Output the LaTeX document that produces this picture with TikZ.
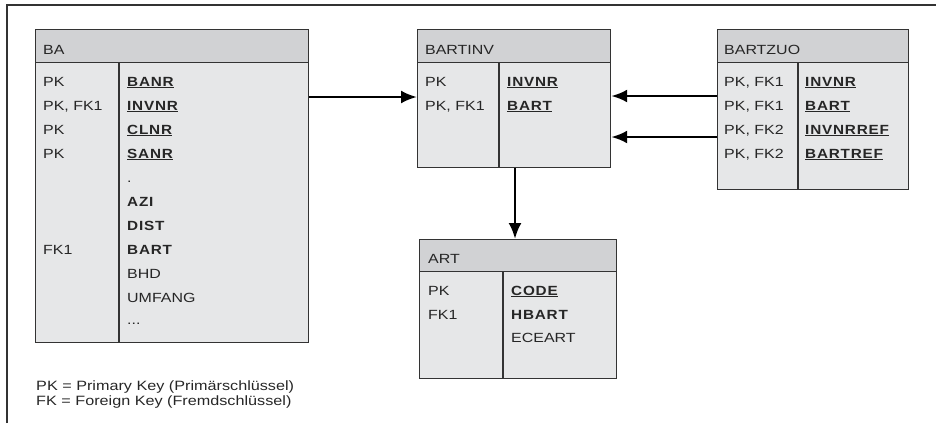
\documentclass[tikz,border=0pt]{standalone}
\usepackage{fontspec}
\setmainfont{Liberation Sans}[FakeStretch=1.2]
\newfontface\keyfont{Liberation Sans Bold}[FakeStretch=1.15,LetterSpace=6]
\usetikzlibrary{arrows.meta}
\definecolor{headgray}{HTML}{D1D2D4}
\definecolor{bodygray}{HTML}{E6E7E8}
\definecolor{ink}{HTML}{333333}
\definecolor{textink}{HTML}{262626}
\newcommand{\pkey}[1]{\underline{\keyfont #1}}
\newcommand{\fkey}[1]{{\keyfont #1}}

\begin{document}
\begin{tikzpicture}[x=1pt,y=-1pt,
        hd/.style={draw=ink, line width=1.2pt, fill=headgray, anchor=north west, inner sep=0pt},
        bd/.style={draw=ink, line width=1.2pt, fill=bodygray, anchor=north west, inner sep=0pt},
        txt/.style={anchor=base west, inner sep=0pt, text=textink, font=\fontsize{13.3}{15}\selectfont},
        fk/.style={line width=2.6pt, -{Latex[length=16pt,width=13pt]}}]
        \useasboundingbox (0,0) rectangle (936,423);
        \draw[line width=2.6pt, color=ink] (7,423) -- (7,5) -- (936,5);

        % table BA
        \node[hd, minimum width=273pt, minimum height=33pt] (ba-h) at (35,29) {};
        \node[bd, minimum width=273pt, minimum height=280pt] (ba) at (35,62) {};
        \draw[ink, line width=1.2pt] (ba.north -| 119,0) -- (ba.south -| 119,0);
        \node[txt] (ba-t) at (43,54) {BA};
        \node[txt] (ba-k1) at (43,86) {PK};
        \node[txt] (ba-k2) at (43,110) {PK, FK1};
        \node[txt] (ba-k3) at (43,134) {PK};
        \node[txt] (ba-k4) at (43,158) {PK};
        \node[txt] (ba-k5) at (43,254) {FK1};
        \node[txt] (ba-a1) at (127,86) {\pkey{BANR}};
        \node[txt] (ba-a2) at (127,110) {\pkey{INVNR}};
        \node[txt] (ba-a3) at (127,134) {\pkey{CLNR}};
        \node[txt] (ba-a4) at (127,158) {\pkey{SANR}};
        \node[txt] (ba-a5) at (127,182) {.};
        \node[txt] (ba-a6) at (127,206) {\fkey{AZI}};
        \node[txt] (ba-a7) at (127,230) {\fkey{DIST}};
        \node[txt] (ba-a8) at (127,254) {\fkey{BART}};
        \node[txt] (ba-a9) at (127,278) {BHD};
        \node[txt] (ba-a10) at (127,302) {UMFANG};
        \node[txt] (ba-a11) at (127,324) {...};

        % table BARTINV
        \node[hd, minimum width=193pt, minimum height=33pt] (bartinv-h) at (417,29) {};
        \node[bd, minimum width=193pt, minimum height=105pt] (bartinv) at (417,62) {};
        \draw[ink, line width=1.2pt] (bartinv.north -| 499,0) -- (bartinv.south -| 499,0);
        \node[txt] (bartinv-t) at (425,54) {BARTINV};
        \node[txt] (bartinv-k1) at (425,86) {PK};
        \node[txt] (bartinv-k2) at (425,110) {PK, FK1};
        \node[txt] (bartinv-a1) at (507,86) {\pkey{INVNR}};
        \node[txt] (bartinv-a2) at (507,110) {\pkey{BART}};

        % table BARTZUO
        \node[hd, minimum width=191pt, minimum height=33pt] (bartzuo-h) at (717,29) {};
        \node[bd, minimum width=191pt, minimum height=127pt] (bartzuo) at (717,62) {};
        \draw[ink, line width=1.2pt] (bartzuo.north -| 798,0) -- (bartzuo.south -| 798,0);
        \node[txt] (bartzuo-t) at (724,54) {BARTZUO};
        \node[txt] (bartzuo-k1) at (724,86) {PK, FK1};
        \node[txt] (bartzuo-k2) at (724,110) {PK, FK1};
        \node[txt] (bartzuo-k3) at (724,134) {PK, FK2};
        \node[txt] (bartzuo-k4) at (724,158) {PK, FK2};
        \node[txt] (bartzuo-a1) at (805,86) {\pkey{INVNR}};
        \node[txt] (bartzuo-a2) at (805,110) {\pkey{BART}};
        \node[txt] (bartzuo-a3) at (805,134) {\pkey{INVNRREF}};
        \node[txt] (bartzuo-a4) at (805,158) {\pkey{BARTREF}};

        % table ART
        \node[hd, minimum width=197pt, minimum height=32pt] (art-h) at (419,239) {};
        \node[bd, minimum width=197pt, minimum height=107pt] (art) at (419,271) {};
        \draw[ink, line width=1.2pt] (art.north -| 503,0) -- (art.south -| 503,0);
        \node[txt] (art-t) at (428,263) {ART};
        \node[txt] (art-k1) at (428,295) {PK};
        \node[txt] (art-k2) at (428,319) {FK1};
        \node[txt] (art-a1) at (511,295) {\pkey{CODE}};
        \node[txt] (art-a2) at (511,319) {\fkey{HBART}};
        \node[txt] (art-a3) at (511,342) {ECEART};

        % references
        \draw[fk] (ba.east |- 0,97) -- (bartinv.west |- 0,97);
        \draw[fk] (bartzuo.west |- 0,96) -- (bartinv.east |- 0,96);
        \draw[fk] (bartzuo.west |- 0,137) -- (bartinv.east |- 0,137);
        \draw[fk] (bartinv.south -| 515,0) -- (art-h.north -| 515,0);

        % legend
        \node[txt, font=\fontsize{13.5}{15}\selectfont] (leg-pk) at (36,390) {PK = Primary Key (Primärschlüssel)};
        \node[txt, font=\fontsize{13.5}{15}\selectfont] (leg-fk) at (36,405) {FK = Foreign Key (Fremdschlüssel)};
    \end{tikzpicture}
\end{document}
